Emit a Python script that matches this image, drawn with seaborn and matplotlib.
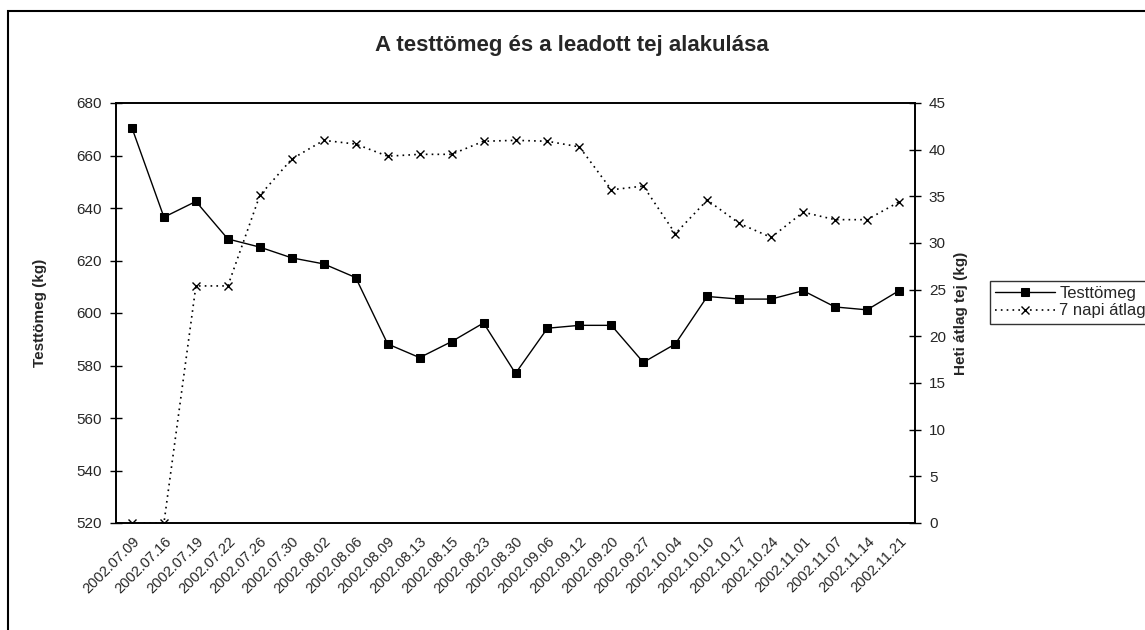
import numpy as np
import pandas as pd
import matplotlib
matplotlib.use("Agg")
import matplotlib.pyplot as plt
import matplotlib.patches as mpatches
import seaborn as sns

dates = ["2002.07.09", "2002.07.16", "2002.07.19", "2002.07.22", "2002.07.26",
         "2002.07.30", "2002.08.02", "2002.08.06", "2002.08.09", "2002.08.13",
         "2002.08.15", "2002.08.23", "2002.08.30", "2002.09.06", "2002.09.12",
         "2002.09.20", "2002.09.27", "2002.10.04", "2002.10.10", "2002.10.17",
         "2002.10.24", "2002.11.01", "2002.11.07", "2002.11.14", "2002.11.21"]

testtomeg = [670.5, 636.5, 642.5, 628.2, 625.1, 621.0, 618.7, 613.5, 588.2, 583.0,
             589.1, 596.2, 577.0, 594.2, 595.3, 595.3, 581.2, 588.2, 606.3, 605.3,
             605.3, 608.5, 602.3, 601.2, 608.5]

tej_7napi = [0.0, 0.0, 25.4, 25.4, 35.1, 39.0, 41.0, 40.6, 39.3, 39.5,
             39.5, 40.9, 41.0, 40.9, 40.3, 35.7, 36.1, 31.0, 34.6, 32.1,
             30.6, 33.3, 32.5, 32.5, 34.4]

sns.set_style("white")
plt.rcParams["font.family"] = ["Liberation Sans", "DejaVu Sans"]

W, H = 1145, 630
fig = plt.figure(figsize=(W / 100, H / 100), dpi=100)
fig.patch.set_facecolor("white")

# plot area in pixel coordinates
left, right, top, bottom = 116, 915, 103, 523
ax = fig.add_axes([left / W, 1 - bottom / H, (right - left) / W, (bottom - top) / H])
ax2 = ax.twinx()

df = pd.DataFrame({"pos": np.arange(len(dates)), "datum": dates,
                   "testtomeg": testtomeg, "tej": tej_7napi})

sns.lineplot(data=df, x="pos", y="testtomeg", ax=ax, color="black", lw=1.0,
             marker="s", markersize=6.2, markeredgecolor="black",
             markerfacecolor="black", label="Testtömeg", legend=False)
sns.lineplot(data=df, x="pos", y="tej", ax=ax2, color="black", lw=1.2,
             linestyle=(0, (1, 2.5)), marker="x", markersize=5.5,
             markeredgewidth=1.0, markeredgecolor="black",
             label="7 napi átlag", legend=False)

n = len(dates)
ax.set_xlim(-0.5, n - 0.5)
ax.set_ylim(520, 680)
ax2.set_ylim(0, 45)
ax.set_yticks(np.arange(520, 681, 20))
ax2.set_yticks(np.arange(0, 46, 5))

# category labels at centres, tick marks between categories
ax.set_xticks(np.arange(n))
ax.set_xticklabels(dates, rotation=45, ha="right", va="top",
                   rotation_mode="anchor", fontsize=10.5)
ax.set_xticks(np.arange(-0.5, n, 1.0), minor=True)
ax.tick_params(axis="x", which="major", length=0, pad=8)
ax.tick_params(axis="x", which="minor", length=8, width=1.0,
               direction="inout", color="black")

ax.tick_params(axis="y", which="major", length=8, width=1.0,
               direction="inout", labelsize=11, pad=6, color="black")
ax2.tick_params(axis="y", which="major", length=8, width=1.0,
                direction="inout", labelsize=11, pad=6, color="black")

for a in (ax, ax2):
    for sp in a.spines.values():
        sp.set_visible(True)
        sp.set_color("black")
        sp.set_linewidth(1.2)
    a.grid(False)

ax.set_xlabel("")
ax.set_ylabel("Testtömeg (kg)", fontsize=11, fontweight="bold", labelpad=21)
ax2.set_ylabel("Heti átlag tej (kg)", fontsize=11, fontweight="bold", labelpad=6)

fig.text(572 / W, 1 - 45 / H, "A testtömeg és a leadott tej alakulása",
         ha="center", va="center", fontsize=16, fontweight="bold")

# legend box, running off the right edge of the chart
h1, l1 = ax.get_legend_handles_labels()
h2, l2 = ax2.get_legend_handles_labels()
leg = fig.legend(h1 + h2, l1 + l2, loc="upper left",
                 bbox_to_anchor=(990 / W, 1 - 281 / H),
                 frameon=True, fancybox=False, fontsize=12,
                 handlelength=3.6, handletextpad=0.25, borderpad=0.3,
                 labelspacing=0.15, borderaxespad=0)
leg.get_frame().set_edgecolor("black")
leg.get_frame().set_linewidth(1.0)

# outer chart border
fig.patches.append(mpatches.Rectangle((8 / W, -0.05), 1.1, 1 - 11 / H + 0.05,
                                      transform=fig.transFigure, fill=False,
                                      edgecolor="black", linewidth=1.5))

fig.savefig("out.png", dpi=100, facecolor="white")
